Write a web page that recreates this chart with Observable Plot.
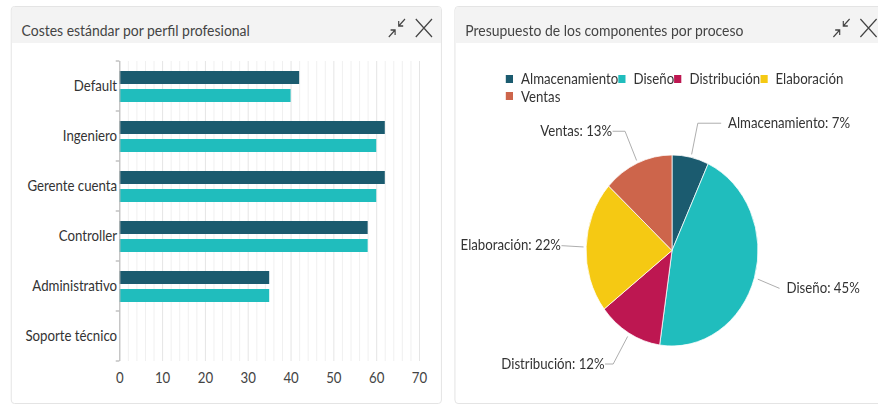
<!DOCTYPE html>
<html><head><meta charset="utf-8">
<script src="https://cdn.jsdelivr.net/npm/d3@7"></script>
<script src="https://cdn.jsdelivr.net/npm/@observablehq/plot@0.6"></script>
<style>
html,body{margin:0;padding:0;background:#fff;overflow:hidden;width:878px;height:412px}
#wrap{position:absolute;left:0;top:0;width:976px;height:412px;transform:scaleX(0.9);transform-origin:0 0;font-family:Lato,sans-serif;overflow:hidden}
.panel{position:absolute;border:1px solid #e3e3e3;border-radius:4px;background:#fff;overflow:hidden;box-sizing:border-box}
.head{position:absolute;left:0;top:0;right:0;height:36px;background:#f3f3f3}
.title{position:absolute;left:11px;top:10px;line-height:26px;font-size:15.5px;color:#444;white-space:nowrap}
.abs{position:absolute}
.abs svg{max-width:none}
.lg-swatches{font-family:Lato,sans-serif !important;font-size:14.7px !important;color:#333 !important;margin:0 !important;line-height:17.5px !important}
.lg-swatches-wrap{min-height:0 !important;align-items:center}
.lg-swatches-wrap .lg-swatch{margin-right:0 !important;height:17.5px}
.lg-swatch > svg{margin-right:9px !important}
</style></head>
<body>
<div id="wrap">
  <div class="panel" style="left:12px;top:6px;width:479px;height:398px">
    <div class="head"><div class="title">Costes estándar por perfil profesional</div></div>
  </div>
  <div class="panel" style="left:505px;top:6px;width:520px;height:398px">
    <div class="head"><div class="title">Presupuesto de los componentes por proceso</div></div>
  </div>
  <svg class="abs" style="left:431px;top:18px" width="20" height="20"><g fill="none" stroke="#444" stroke-width="1.3"><path d="M19,1L12,8M12,3L12,8L17,8M1,19L8,12M3,12L8,12L8,17"/></g></svg>
  <svg class="abs" style="left:461px;top:18px" width="20" height="20"><g fill="none" stroke="#444" stroke-width="1.4"><path d="M1,1L19,19M19,1L1,19"/></g></svg>
  <svg class="abs" style="left:925px;top:18px" width="20" height="20"><g fill="none" stroke="#444" stroke-width="1.3"><path d="M19,1L12,8M12,3L12,8L17,8M1,19L8,12M3,12L8,12L8,17"/></g></svg>
  <svg class="abs" style="left:955px;top:18px" width="20" height="20"><g fill="none" stroke="#444" stroke-width="1.4"><path d="M1,1L19,19M19,1L1,19"/></g></svg>
  <div class="abs" id="bars" style="left:13px;top:43px"></div>
  <div class="abs" id="legend" style="left:562px;top:70px;width:400px"></div>
  <div class="abs" id="pie" style="left:506px;top:105px"></div>
</div>
<script>
// ---- Data: bar chart ----
const categorias = ["Default", "Ingeniero", "Gerente cuenta", "Controller", "Administrativo", "Soporte técnico"];
const costeEstandar = [42, 62, 62, 58, 35, 0];
const costeReal = [40, 60, 60, 58, 35, 0];
const xTicks = [0, 10, 20, 30, 40, 50, 60, 70];
const colorEstandar = "#1b5b6f";
const colorReal = "#20bdbd";

// ---- Data: pie chart ----
const procesos = ["Almacenamiento", "Diseño", "Distribución", "Elaboración", "Ventas"];
const porcentajes = [6.9, 45.4, 12.2, 22.3, 13.2];
const coloresProceso = ["#1b5b6f", "#20bdbd", "#bd1751", "#f5c913", "#cd654b"];

const FS = 14.7;

// ---- Bar chart ----
const barras = categorias.map((c, i) => ({categoria: c, estandar: costeEstandar[i], real: costeReal[i]}));

function bandTicks(index, scales) {
  const y = scales.y, x0 = scales.x(0);
  const bw = y.bandwidth ? y.bandwidth() : 50;
  const ys = categorias.map(c => y(c)).concat([y(categorias[categorias.length - 1]) + bw]);
  const g = d3.create("svg:g").attr("stroke", "#b8b8b8").attr("stroke-width", 1.3);
  g.selectAll("line").data(ys).join("line")
    .attr("x1", x0 - 4).attr("x2", x0).attr("y1", d => d).attr("y2", d => d);
  return g.node();
}

const minorGrid = d3.range(0, 71, 2).filter(v => v % 10 !== 0);
const barPlot = Plot.plot({
  width: 477, height: 360,
  marginLeft: 119.6, marginRight: 24.4, marginTop: 18, marginBottom: 42,
  style: {fontFamily: "Lato, sans-serif", fontSize: FS + "px", background: "transparent", color: "#333", overflow: "visible"},
  x: {domain: [0, 70]},
  y: {domain: categorias, padding: 0},
  marks: [
    Plot.gridX(minorGrid, {stroke: "#efefef", strokeOpacity: 1}),
    Plot.gridX(xTicks.filter(v => v > 0), {stroke: "#e4e4e4", strokeOpacity: 1}),
    Plot.barX(barras, {x: "estandar", y: "categoria", fill: colorEstandar, insetTop: 10, insetBottom: 27}),
    Plot.barX(barras, {x: "real", y: "categoria", fill: colorReal, insetTop: 28, insetBottom: 9}),
    Plot.ruleX([0], {stroke: "#b8b8b8", strokeWidth: 1.3}),
    bandTicks,
    Plot.axisX({ticks: xTicks, tickSize: 0, tickPadding: 11, fontSize: FS, color: "#444", label: null}),
    Plot.axisY({tickSize: 0, tickPadding: 3, fontSize: FS, color: "#333", label: null})
  ]
});
document.getElementById("bars").append(barPlot);

// ---- Pie chart ----
const filas = procesos.map((p, i) => ({proceso: p, valor: porcentajes[i]}));
const total = d3.sum(porcentajes);
const arcos = d3.pie().sort(null).value(d => d.valor)(filas);

const radioPx = 95.5, cxPx = 240.7, cyPx = 145.5;

function pieSlices(index, scales) {
  const cx = scales.x(0), cy = scales.y(0), R = scales.x(1) - cx;
  const color = scales.color || d3.scaleOrdinal(procesos, coloresProceso);
  const g = d3.create("svg:g").attr("transform", `translate(${cx},${cy})`);
  const arc = d3.arc().innerRadius(0).outerRadius(R);
  g.selectAll("path").data(arcos).join("path")
    .attr("d", arc)
    .attr("fill", d => color(d.data.proceso))
    .attr("stroke", "#fff").attr("stroke-width", 0.8);
  return g.node();
}

// label layout: radial leader, labels placed on an ellipse around the pie
const etiquetas = arcos.map(a => {
  const m = (a.startAngle + a.endAngle) / 2, s = Math.sin(m), c = Math.cos(m);
  const side = s >= 0 ? 1 : -1;
  const e = 1.37, A = 1.288, B = 1.487;
  const ly = e * c;
  const endX = side * A * Math.sqrt(Math.max(0, 1 - (ly / B) ** 2));
  const elbowX = side * Math.min(Math.abs(e * s), Math.abs(endX));
  return {
    proceso: a.data.proceso, side,
    pts: [[1.04 * s, 1.04 * c], [elbowX, ly], [endX, ly]],
    tx: endX + side * (side > 0 ? 8 : 1) / radioPx, ty: ly,
    texto: `${a.data.proceso}: ${Math.round(a.data.valor / total * 100)}%`
  };
});
const lineas = etiquetas.flatMap(l => l.pts.map(([x, y]) => ({proceso: l.proceso, x, y})));

const piePlot = Plot.plot({
  width: 470, height: 298,
  style: {fontFamily: "Lato, sans-serif", fontSize: FS + "px", background: "transparent", color: "#333", overflow: "visible"},
  x: {domain: [-1, 1], range: [cxPx - radioPx, cxPx + radioPx], axis: null},
  y: {domain: [-1, 1], range: [cyPx + radioPx, cyPx - radioPx], axis: null},
  color: {domain: procesos, range: coloresProceso},
  marks: [
    pieSlices,
    Plot.line(lineas, {x: "x", y: "y", z: "proceso", stroke: "#aaaaaa", strokeWidth: 1}),
    Plot.text(etiquetas.filter(d => d.side > 0), {x: "tx", y: "ty", text: "texto", textAnchor: "start", fontSize: FS, fill: "#333"}),
    Plot.text(etiquetas.filter(d => d.side < 0), {x: "tx", y: "ty", text: "texto", textAnchor: "end", fontSize: FS, fill: "#333"})
  ]
});
document.getElementById("pie").append(piePlot);

const leyenda = Plot.legend({
  color: {type: "ordinal", domain: procesos, range: coloresProceso},
  legend: "swatches",
  swatchSize: 8,
  className: "lg",
  style: {fontFamily: "Lato, sans-serif", fontSize: FS + "px", color: "#333"}
});
document.getElementById("legend").append(leyenda);
</script>
</body></html>
